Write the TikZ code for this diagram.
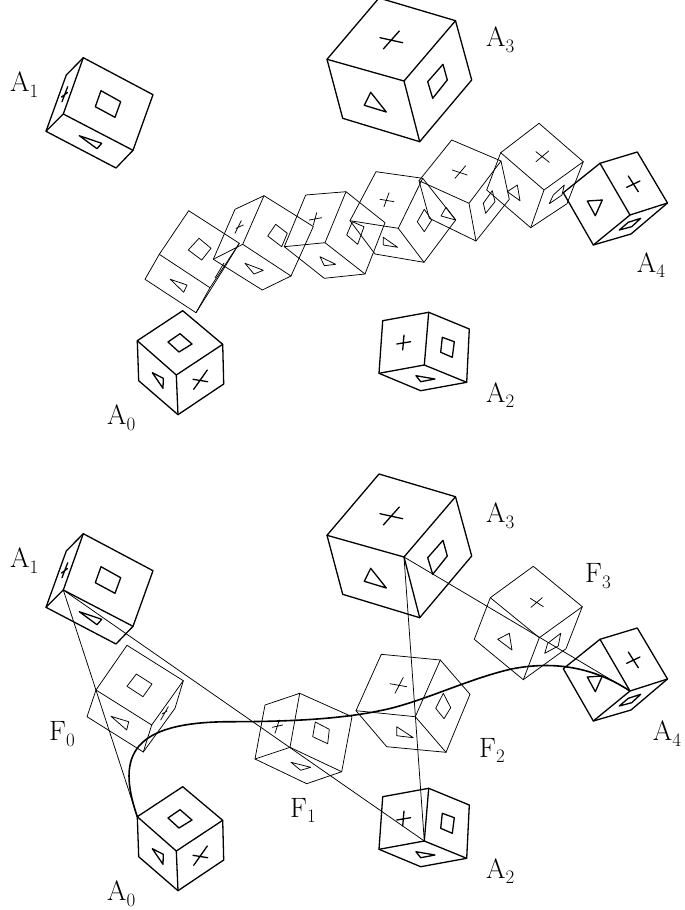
\documentclass[tikz,border=0pt]{standalone}
\newcommand{\lab}[2]{#1\raisebox{-.2em}{\fontsize{19}{19}\selectfont #2}}
\tikzset{
  bold/.style={line width=1.3pt,line join=round,line cap=round},
  frame/.style={line width=0.75pt,line join=round,line cap=round},
  tag/.style={anchor=base west,inner sep=0pt,font=\fontsize{28}{30}\selectfont},
  x=1pt,y=-1pt
}
% cube: hexagon, centre, three spokes
\newcommand{\cubeA}{%
  \draw (83.3,57.7)--(153,94.7)--(133,150.3)--(116,168)--(46,131.3)--(66.3,75)--cycle;
  \draw (83.3,57.7)--(63.3,114) (133,150.3)--(63.3,114)--(46,131.3);
  \draw (101,90.7)--(120.7,101.7)--(115,117.3)--(95.3,106.7)--cycle;
  \draw (79.3,135.7)--(101.7,143.3)--(97,148.7)--cycle;
  \draw (67.7,86.7)--(62,101.7) (61.5,97)--(67.5,92.5);
}
\newcommand{\cubeB}{%
  \draw (182.7,310.7)--(222.7,344.3)--(223.7,384)--(178,414.7)--(138.7,380.7)--(137.3,340.7)--cycle;
  \draw (137.3,340.7)--(176.3,375)--(222.7,344.3) (176.3,375)--(178,414.7);
  \draw (180,333.7)--(192,344)--(179,352)--(168,342)--cycle;
  \draw (152.3,372.7)--(163.3,378.3)--(163,388.3)--cycle;
  \draw (193.7,389.3)--(207.3,370) (193,379.3)--(207.7,381.7);
}
\newcommand{\cubeC}{%
  \draw (428.7,312.3)--(469.3,329)--(466.7,382.3)--(420.7,390.7)--(379,373.3)--(382.7,320.7)--cycle;
  \draw (428.7,312.3)--(424.3,365)--(466.7,382.3) (424.3,365)--(379,373.3);
  \draw (442.3,337.3)--(454.3,341.7)--(452.3,357.3)--(440.7,352.3)--cycle;
  \draw (416,375.7)--(435,379)--(420.7,381.7)--cycle;
  \draw (396.7,344)--(410.7,341.7) (404,335)--(402.7,350);
}
\newcommand{\cubeD}{%
  \draw (379,-2)--(455.5,20.7)--(471.7,80)--(419.7,141.7)--(342.7,118.3)--(327,59.3)--cycle;
  \draw (327,59.3)--(404,81)--(455.5,20.7) (404,81)--(419.7,141.7);
  \draw (443,64.3)--(447.3,80)--(432.7,98.3)--(427.7,81.7)--cycle;
  \draw (370.7,92.3)--(386.3,112)--(364.3,105.3)--cycle;
  \draw (380,37.7)--(402.7,42.7) (383.3,49)--(399.3,31);
}
\newcommand{\cubeE}{%
  \draw (637.3,152)--(667.5,203)--(631,234)--(593.3,245)--(563.3,192.7)--(600,163.3)--cycle;
  \draw (600,163.3)--(630,215)--(667.5,203) (630,215)--(593.3,245);
  \draw (587.3,201)--(602.3,200)--(595.3,215.7)--cycle;
  \draw (640.7,218.3)--(631.7,226.7)--(619.3,230)--(628.3,222.3)--cycle;
  \draw (628.3,176)--(638.3,191.7) (626.7,187.3)--(640,181);
}
\begin{document}
\begin{tikzpicture}
\useasboundingbox (0,0) rectangle (685,910);

% ---- upper picture: key positions
\begin{scope}[bold]
  \cubeA \cubeB \cubeC \cubeD \cubeE
\end{scope}
% upper picture: interpolated frames
\begin{scope}[frame]
  % G1
  \draw (188.7,210.7)--(239.3,243.3)--(225,266.7)--(196,312.7)--(145,279.3)--(159.3,254.3)--cycle;
  \draw (239.3,243.3)--(210,287.7)--(196,312.7) (210,287.7)--(159.3,254.3);
  \draw (199,238.3)--(211,248.3)--(201.7,260)--(188.3,250)--cycle;
  \draw (170.3,279.3)--(187,285)--(183.7,292.3)--cycle;
  \draw (224,263)--(215,278);
  % G2
  \draw (264,195.7)--(313.3,226.5)--(291,276)--(262.3,290)--(213.3,259.3)--(235,209.3)--cycle;
  \draw (264,195.7)--(242.7,244.3)--(291,276) (242.7,244.3)--(213.3,259.3);
  \draw (275.7,224.3)--(287.3,233.3)--(281.7,246.7)--(267.7,236)--cycle;
  \draw (245,263.3)--(263.3,270.3)--(254,274)--cycle;
  \draw (241.3,220.7)--(235,233.3) (236,228.3)--(243.3,225);
  % G3
  \draw (346,191.7)--(385,222.7)--(365,274)--(324.3,278.3)--(284.3,246.7)--(305.7,195)--cycle;
  \draw (346,191.7)--(325,242.7)--(365,274) (325,242.7)--(284.3,246.7);
  \draw (352.3,221.7)--(364,226.7)--(357.7,244.3)--(346.7,235)--cycle;
  \draw (320,256.7)--(335.7,264.3)--(324.3,265.7)--cycle;
  \draw (316.7,212.7)--(313.3,225) (309.3,220)--(321.7,217.7);
  % G4
  \draw (376,171.7)--(422.7,178.3)--(455.7,220)--(424,262.3)--(375,254)--(350,220.7)--cycle;
  \draw (422.7,178.3)--(398.3,228.3)--(424,262.3) (398.3,228.3)--(350,220.7);
  \draw (424.3,209.3)--(431.7,220)--(424.3,231.7)--(417.3,221.7)--cycle;
  \draw (383.3,237.3)--(397.7,247.3)--(383.3,245)--cycle;
  \draw (380,199.3)--(394,201.7) (389,192.7)--(384,206.7);
  % G5
  \draw (451.7,140)--(501,161)--(509.3,199.3)--(476,241)--(429.3,218.3)--(419,180.7)--cycle;
  \draw (501,161)--(469,203.3)--(476,241) (469,203.3)--(419,180.7);
  \draw (492.3,190.7)--(495,201.7)--(485.7,213.3)--(483.3,203.3)--cycle;
  \draw (446,207.3)--(455.7,220)--(441,216)--cycle;
  \draw (452.3,170)--(467.3,175) (455,178.3)--(465.7,165.7);
  % G6
  \draw (539,123.3)--(583.3,161.7)--(567,203.7)--(530.7,227.7)--(486.7,190)--(500.7,152.7)--cycle;
  \draw (500.7,152.7)--(544,190)--(583.3,161.7) (544,190)--(530.7,227.7);
  \draw (564.3,185)--(562,195)--(549.3,203.7)--(553.3,195)--cycle;
  \draw (517.3,185)--(520,200.7)--(507.3,191.7)--cycle;
  \draw (536,151.7)--(549.3,162.3) (536,161.7)--(548.7,151);
\end{scope}

\node[tag] (tA1) at (10,91.7) {\lab{A}{1}};
\node[tag] (tA3) at (486,46.7) {\lab{A}{3}};
\node[tag] (tA4) at (636.7,272) {\lab{A}{4}};
\node[tag] (tA0) at (107,424.5) {\lab{A}{0}};
\node[tag] (tA2) at (486,402) {\lab{A}{2}};

% ---- lower picture: key positions
\begin{scope}[bold,yshift=-476pt]
  \cubeA \cubeB \cubeC \cubeD \cubeE
\end{scope}
\coordinate (A1c) at (63.3,590);
\coordinate (A0l) at (137.3,816.7);
\coordinate (A2c) at (424.3,841);
\coordinate (A3c) at (404,557);
\coordinate (A4c) at (630,691);

% lower picture: frames
\begin{scope}[frame]
  % F0
  \draw (127,645.3)--(183.3,680.7)--(175,708.3)--(143.3,752)--(87,716.7)--(96,690)--cycle;
  \draw (183.3,680.7)--(151.7,725)--(143.3,752) (151.7,725)--(96,690);
  \draw (136.3,674)--(152,684)--(143,696.7)--(127,686.3)--cycle;
  \draw (111,716.3)--(128.7,721.7)--(126.7,730)--cycle;
  \draw (168.3,706.7)--(160.7,720) (162,714)--(167,711);
  % F1
  \draw (299.7,693.3)--(352,716.7)--(341.7,771.7)--(306.7,783.7)--(255,759)--(265,705)--cycle;
  \draw (299.7,693.3)--(290,747.3)--(341.7,771.7) (290,747.3)--(255,759);
  \draw (315.3,722)--(329.3,729.3)--(327.7,743.7)--(312.7,736.7)--cycle;
  \draw (291,762.3)--(310.7,767.3)--(300.7,770.3)--cycle;
  \draw (272.3,727.3)--(282.7,725) (279.3,720)--(275,733.3);
  % F2
  \draw (381.3,654.3)--(440.3,660)--(470,694.3)--(446,752.3)--(386.7,746.7)--(356,710.7)--cycle;
  \draw (440.3,660)--(415.3,716.7)--(446,752.3) (415.3,716.7)--(356,710.7);
  \draw (443.3,693.3)--(450.7,707.7)--(444,718.7)--(435.7,708.3)--cycle;
  \draw (396.7,726.7)--(413.3,737.7)--(396.7,735.7)--cycle;
  \draw (390,683.7)--(406.7,686.7) (403.3,677.3)--(395,693.3);
  % F3
  \draw (533.3,566.3)--(582.3,606.7)--(566,648.7)--(523.3,679.7)--(474.3,639.3)--(490.3,597.7)--cycle;
  \draw (490.3,597.7)--(539.3,637.7)--(582.3,606.7) (539.3,637.7)--(523.3,679.7);
  \draw (509.3,633.3)--(512,650)--(497.7,639.3)--cycle;
  \draw (560.7,633.3)--(558.3,646)--(544.7,653.3)--(547.7,643.3)--cycle;
  \draw (530.3,598.3)--(543.3,606.7) (531,607.3)--(542.3,597.7);
\end{scope}

% connectors
\draw[frame] (A1c)--(A0l);
\draw[frame] (A1c)--(A2c);
\draw[frame] (A3c)--(A2c);
\draw[frame] (A3c)--(A4c);
\draw[line width=1.6pt] (A0l) .. controls (116,755) and (132,722) .. (230,721.7)
  .. controls (290,721.7) and (340,719) .. (380,710.7)
  .. controls (420,703) and (465,680) .. (510,669.3)
  .. controls (555,660) and (595,668) .. (A4c);

\node[tag] (bA1) at (10,567.7) {\lab{A}{1}};
\node[tag] (bA3) at (486,522.7) {\lab{A}{3}};
\node[tag] (bA4) at (652.7,740.7) {\lab{A}{4}};
\node[tag] (bA0) at (107,900.7) {\lab{A}{0}};
\node[tag] (bA2) at (486,878) {\lab{A}{2}};
\node[tag] (F0) at (49,740.7) {\lab{F}{0}};
\node[tag] (F1) at (290,817) {\lab{F}{1}};
\node[tag] (F2) at (479,757) {\lab{F}{2}};
\node[tag] (F3) at (585,582.7) {\lab{F}{3}};
\end{tikzpicture}
\end{document}
